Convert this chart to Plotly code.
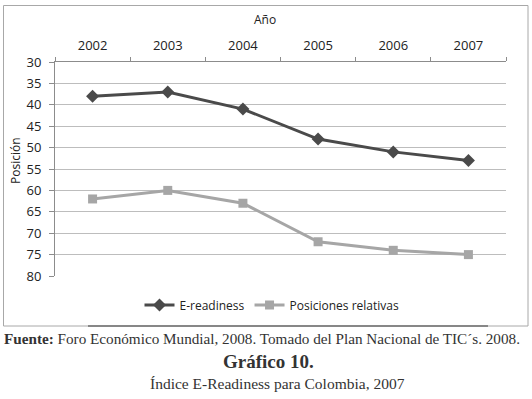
import plotly.graph_objects as go

years = ["2002", "2003", "2004", "2005", "2006", "2007"]
e_readiness = [38, 37, 41, 48, 51, 53]
posiciones = [62, 60, 63, 72, 74, 75]
y_ticks = [30, 35, 40, 45, 50, 55, 60, 65, 70, 75, 80]

W, H = 532, 399
L, R, T, B = 55, 506, 62, 276

def px(x):
    return (x - L) / (R - L)

def py(y):
    return (B - y) / (B - T)

font_sans = "Open Sans, Liberation Sans, sans-serif"
font_serif = "Liberation Serif, DejaVu Serif, serif"

fig = go.Figure()
fig.add_trace(go.Scatter(
    x=years, y=e_readiness, name="E-readiness", mode="lines+markers",
    line=dict(color="#4a4a4a", width=3),
    marker=dict(symbol="diamond", size=10, color="#4a4a4a"),
))
fig.add_trace(go.Scatter(
    x=years, y=posiciones, name="Posiciones relativas", mode="lines+markers",
    line=dict(color="#a6a6a6", width=3),
    marker=dict(symbol="square", size=9, color="#a6a6a6"),
))

fig.update_layout(
    width=W, height=H,
    margin=dict(l=L, r=W - R, t=T, b=H - B, pad=0, autoexpand=False),
    paper_bgcolor="white", plot_bgcolor="white",
    font=dict(family=font_sans, size=12, color="#222"),
    showlegend=True,
    legend=dict(orientation="h", x=px(272), xanchor="center", y=py(305), yanchor="middle",
                font=dict(size=12, color="#222"), bgcolor="rgba(0,0,0,0)"),
    xaxis=dict(
        type="category", side="top", range=[-0.5, 5.5],
        showline=True, linecolor="#8c8c8c", linewidth=1,
        ticks="outside", tickson="boundaries", ticklen=4, tickcolor="#8c8c8c",
        ticklabelstandoff=6,
        showgrid=False, tickfont=dict(size=13, color="#222"),
    ),
    yaxis=dict(
        range=[80, 30], tickvals=y_ticks, showline=True, linecolor="#8c8c8c", linewidth=1,
        ticks="outside", ticklen=5, tickcolor="#8c8c8c", ticklabelstandoff=5,
        showgrid=True, gridcolor="#bdbdbd", gridwidth=1,
        tickfont=dict(size=13, color="#222"), zeroline=False,
    ),
    shapes=[
        dict(type="rect", xref="paper", yref="paper",
             x0=px(3.5), x1=px(528), y0=py(326), y1=py(5.5),
             line=dict(color="#a8a8a8", width=1), fillcolor="rgba(0,0,0,0)", layer="above"),
        dict(type="line", xref="paper", yref="paper",
             x0=px(88), x1=px(488), y0=py(326), y1=py(326),
             line=dict(color="#6e6e6e", width=1.5), layer="above"),
    ],
    annotations=[
        dict(text="Año", xref="paper", yref="paper", x=px(265), y=py(19),
             showarrow=False, xanchor="center", yanchor="middle", font=dict(size=12, color="#222")),
        dict(text="Posición", xref="paper", yref="paper", x=px(15), y=py(161),
             showarrow=False, textangle=-90, xanchor="center", yanchor="middle",
             font=dict(size=12, color="#222")),
        dict(text="<b>Fuente:</b> Foro Económico Mundial, 2008. Tomado del Plan Nacional de TIC´s. 2008.",
             xref="paper", yref="paper", x=px(262), y=py(338), showarrow=False,
             xanchor="center", yanchor="middle", font=dict(family=font_serif, size=15.2, color="#333")),
        dict(text="<b>Gráfico 10.</b>", xref="paper", yref="paper", x=px(268), y=py(361),
             showarrow=False, xanchor="center", yanchor="middle",
             font=dict(family=font_serif, size=19, color="#333")),
        dict(text="Índice E-Readiness para Colombia, 2007", xref="paper", yref="paper",
             x=px(277), y=py(383), showarrow=False, xanchor="center", yanchor="middle",
             font=dict(family=font_serif, size=15.5, color="#333")),
    ],
)

fig.write_html("out.html", config={"displayModeBar": False},
               post_script="document.body.style.margin='0';document.body.style.overflow='hidden';")
